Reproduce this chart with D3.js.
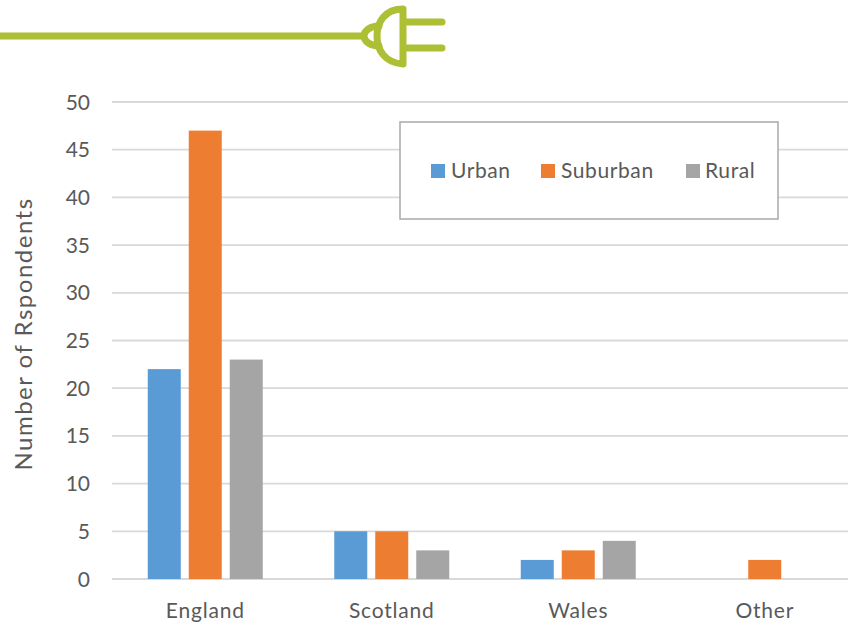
<!DOCTYPE html>
<html><head><meta charset="utf-8">
<script src="https://cdn.jsdelivr.net/npm/d3@7"></script>
<style>html,body{margin:0;padding:0;background:#fff;overflow:hidden}svg{display:block}text{font-family:Lato,"Open Sans",sans-serif;fill:#595959}</style>
</head><body><svg id="c" width="848" height="625"></svg>
<script>
const categories=["England","Scotland","Wales","Other"];
const seriesNames=["Urban","Suburban","Rural"];
const urban=[22,5,2,0];
const suburban=[47,5,3,2];
const rural=[23,3,4,0];
const seriesValues=[urban,suburban,rural];
const colors=["#5b9bd5","#ed7d31","#a5a5a5"];
const yTicks=[0,5,10,15,20,25,30,35,40,45,50];
const svg=d3.select("#c");
const x=d3.scaleBand().domain(categories).range([112,858]);
const inner=d3.scaleBand().domain(seriesNames).range([0,115]).paddingInner(0.195).paddingOuter(0);
const y=d3.scaleLinear().domain([0,50]).range([579,102]);
// gridlines
svg.append("g").selectAll("line").data(yTicks).join("line")
 .attr("x1",112).attr("x2",848).attr("y1",d=>y(d)).attr("y2",d=>y(d))
 .attr("stroke","#d9d9d9").attr("stroke-width",1.8);
// y ticks
svg.append("g").selectAll("text").data(yTicks).join("text")
 .attr("x",90).attr("y",d=>y(d)+7.5).attr("text-anchor","end").attr("font-size",21).text(d=>d);
// bars
seriesNames.forEach((s,i)=>{
 svg.append("g").selectAll("rect").data(seriesValues[i].map((v,j)=>({v,c:categories[j]}))).join("rect")
 .attr("x",d=>x(d.c)+x.bandwidth()/2-57.5+inner(s))
 .attr("width",inner.bandwidth())
 .attr("y",d=>y(d.v)).attr("height",d=>y(0)-y(d.v))
 .attr("fill",colors[i]);
});
// x labels
svg.append("g").selectAll("text").data(categories).join("text")
 .attr("x",d=>x(d)+x.bandwidth()/2).attr("y",618).attr("text-anchor","middle").attr("font-size",21).attr("letter-spacing",0.8).text(d=>d);
// y title
svg.append("text").attr("transform","translate(32,334) rotate(-90)").attr("text-anchor","middle").attr("font-size",24).attr("letter-spacing",1.5).text("Number of Rspondents");
// legend
svg.append("rect").attr("x",400).attr("y",122).attr("width",378).attr("height",97).attr("fill","#fff").attr("stroke","#a9a9a9").attr("stroke-width",1.5);
const legendX=[431,541,686];
const legendT=[451,561,705];
seriesNames.forEach((s,i)=>{
 svg.append("rect").attr("x",legendX[i]).attr("y",164).attr("width",14).attr("height",14).attr("fill",colors[i]);
 svg.append("text").attr("x",legendT[i]).attr("y",178).attr("font-size",21).attr("letter-spacing",0.6).text(s);
});
// plug decoration
const g=svg.append("g").attr("fill","none").attr("stroke","#adbf34").attr("stroke-width",7).attr("stroke-linecap","round");
g.append("path").attr("stroke-linecap","butt").attr("d","M0 36H364");
g.append("path").attr("d","M403 9C385 9 377 22 377 36C377 50 385 63 403 64Z").attr("stroke-linejoin","round");
g.append("path").attr("d","M379 26C370 26 364 31 364 36C364 41 370 46 379 46");
g.append("path").attr("d","M405 22H442M405 48H442");
</script></body></html>
